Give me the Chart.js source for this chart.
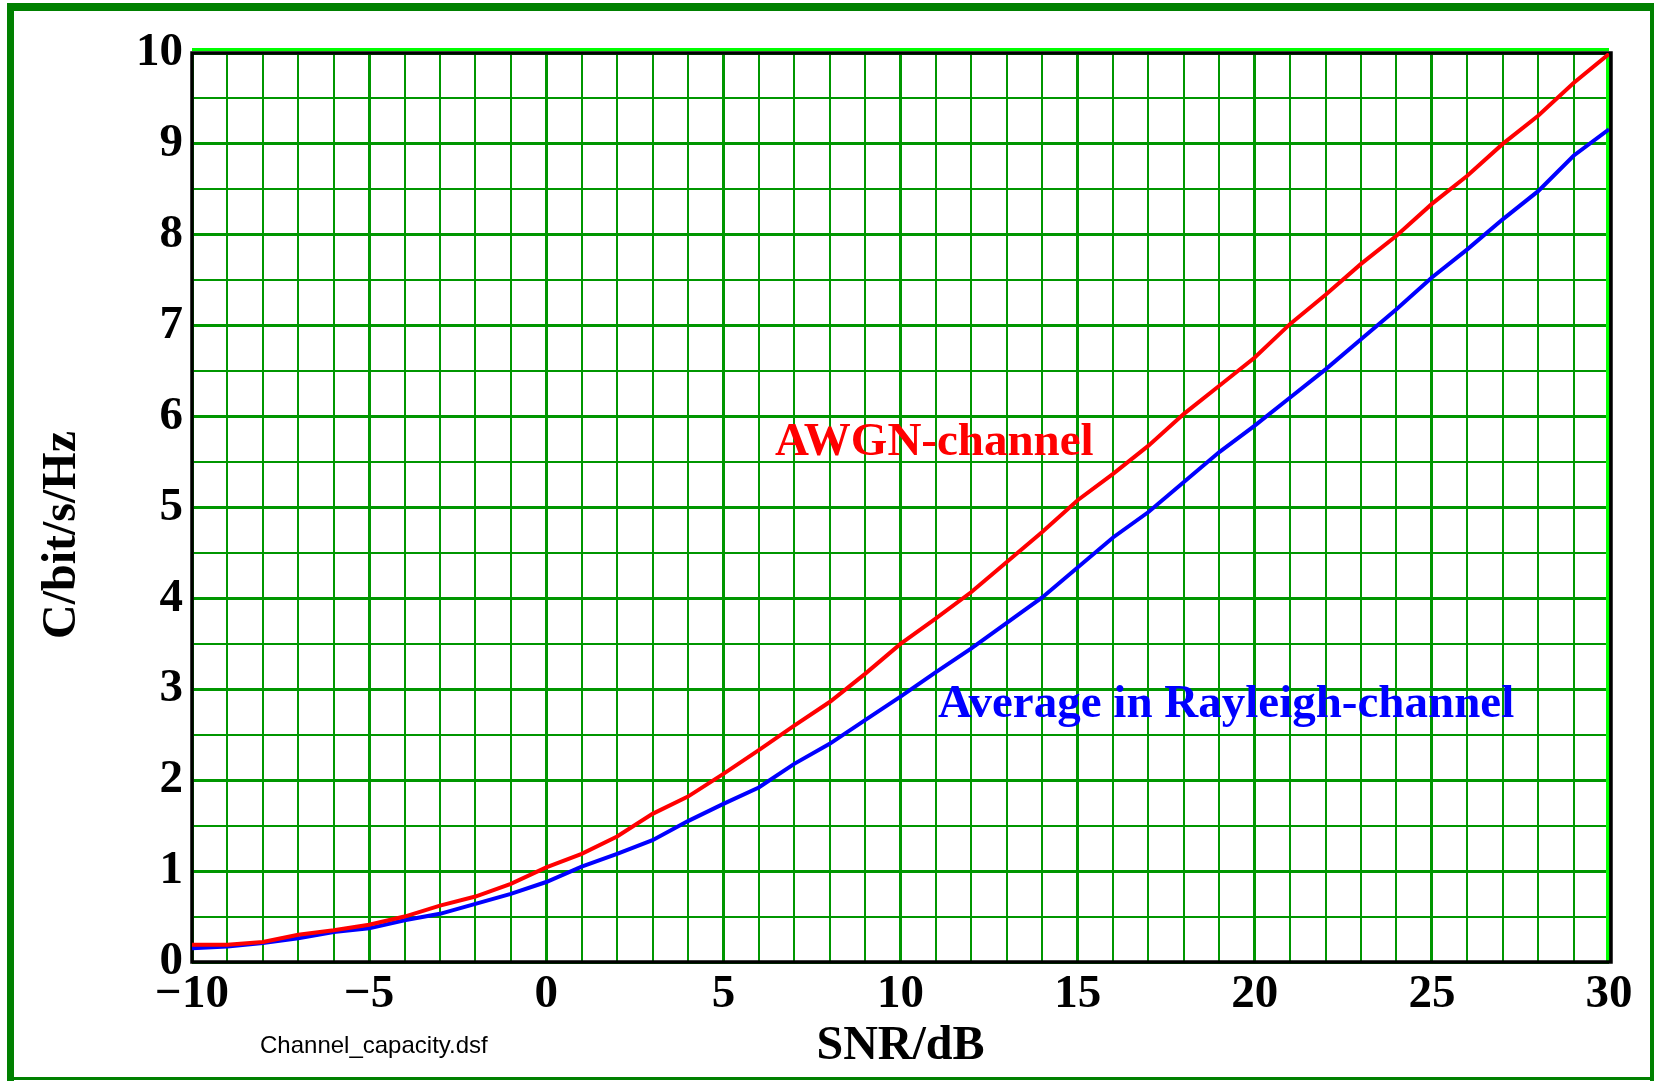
<!DOCTYPE html>
<html>
<head>
<meta charset="utf-8">
<title>Channel capacity</title>
<script src="https://cdn.jsdelivr.net/npm/chart.js@4.4.1/dist/chart.umd.min.js"></script>
<style>
  html, body { margin: 0; padding: 0; background: #fff; }
  canvas { display: block; }
</style>
</head>
<body>
<canvas id="capacity" width="1657" height="1081"></canvas>
<script>
// SNR in dB, one point per dB
const snrDb = [-10, -9, -8, -7, -6, -5, -4, -3, -2, -1, 0, 1, 2, 3, 4, 5, 6, 7, 8, 9,
  10, 11, 12, 13, 14, 15, 16, 17, 18, 19, 20, 21, 22, 23, 24, 25, 26, 27, 28, 29, 30];

// capacity in bit/s/Hz
const awgnCapacity = [0.19, 0.19, 0.22, 0.30, 0.35, 0.41, 0.50, 0.62, 0.72, 0.86,
  1.04, 1.19, 1.38, 1.63, 1.82, 2.07, 2.33, 2.60, 2.86, 3.17,
  3.50, 3.78, 4.07, 4.40, 4.73, 5.08, 5.37, 5.68, 6.03, 6.34,
  6.65, 7.02, 7.34, 7.68, 7.99, 8.34, 8.65, 9.00, 9.31, 9.67, 9.99];
const rayleighCapacity = [0.15, 0.17, 0.21, 0.26, 0.33, 0.37, 0.46, 0.53, 0.64, 0.75,
  0.88, 1.05, 1.19, 1.34, 1.55, 1.74, 1.92, 2.18, 2.40, 2.66,
  2.92, 3.19, 3.45, 3.73, 4.01, 4.34, 4.67, 4.95, 5.28, 5.61,
  5.90, 6.21, 6.52, 6.85, 7.18, 7.53, 7.84, 8.17, 8.48, 8.87, 9.16];

const curveNames = ["AWGN-channel", "Average in Rayleigh-channel"];

// only these ticks get a label, the others just draw a grid line
const xTickLabels = [-10, -5, 0, 5, 10, 15, 20, 25, 30];
const yTickLabels = [0, 1, 2, 3, 4, 5, 6, 7, 8, 9, 10];

const xTitle = "SNR/dB";
const yTitle = "C/bit/s/Hz";
const fileName = "Channel_capacity.dsf";

const GRID_GREEN = "#009600";
const serif = "'Liberation Serif', 'Times New Roman', serif";

function points(values) {
  return snrDb.map((snr, i) => ({ x: snr, y: values[i] }));
}

function formatTick(value) {
  return value < 0 ? "\u2212" + Math.abs(value) : String(value);
}

// where the curve names sit, in data units (left edge, baseline)
const nameAnchors = [
  { x: 6.46, y: 5.58 },
  { x: 11.06, y: 2.70 }
];

const decorations = {
  id: "decorations",
  beforeDraw(chart) {
    const ctx = chart.ctx;
    ctx.save();
    ctx.fillStyle = "#ffffff";
    ctx.fillRect(0, 0, chart.width, chart.height);
    ctx.restore();
  },
  beforeDatasetsDraw(chart) {
    const { ctx, chartArea: a } = chart;
    ctx.save();
    // bright green edge on top and right
    ctx.strokeStyle = "#00ff00";
    ctx.lineWidth = 3;
    ctx.beginPath();
    ctx.moveTo(a.left, a.top - 3.5);
    ctx.lineTo(a.right, a.top - 3.5);
    ctx.moveTo(a.right - 1.5, a.top);
    ctx.lineTo(a.right - 1.5, a.bottom);
    ctx.stroke();
    // black frame
    ctx.strokeStyle = "#000000";
    ctx.lineWidth = 3.5;
    ctx.beginPath();
    ctx.moveTo(a.left, a.top);
    ctx.lineTo(a.right + 2, a.top);
    ctx.lineTo(a.right + 2, a.bottom);
    ctx.lineTo(a.left, a.bottom);
    ctx.closePath();
    ctx.stroke();
    ctx.restore();
  },
  afterDraw(chart) {
    const { ctx, scales } = chart;
    ctx.save();

    // outer dark green border
    ctx.fillStyle = "#008000";
    ctx.fillRect(7, 3, 7, 1078);
    ctx.fillRect(7, 3, 1647, 8);
    ctx.fillRect(1650, 3, 4, 1078);
    ctx.fillRect(7, 1077, 1647, 3);

    // curve names
    ctx.font = "bold 47px " + serif;
    ctx.textAlign = "left";
    ctx.textBaseline = "alphabetic";
    chart.data.datasets.forEach((ds, i) => {
      ctx.fillStyle = ds.borderColor;
      ctx.fillText(ds.label, scales.x.getPixelForValue(nameAnchors[i].x),
        scales.y.getPixelForValue(nameAnchors[i].y));
    });

    // y axis title
    ctx.fillStyle = "#000000";
    ctx.font = "bold 48px " + serif;
    ctx.textAlign = "center";
    ctx.translate(75, 535);
    ctx.rotate(-Math.PI / 2);
    ctx.fillText(yTitle, 0, 0);
    ctx.setTransform(1, 0, 0, 1, 0, 0);

    // source file name
    ctx.font = "24px 'Liberation Sans', Arial, sans-serif";
    ctx.textAlign = "left";
    ctx.fillText(fileName, 260, 1053);
    ctx.restore();
  }
};

const ctx = document.getElementById("capacity").getContext("2d");

new Chart(ctx, {
  type: "scatter",
  data: {
    datasets: [
      {
        label: curveNames[0],
        data: points(awgnCapacity),
        borderColor: "#ff0000",
        backgroundColor: "#ff0000",
        borderWidth: 4,
        showLine: true,
        pointRadius: 0,
        tension: 0
      },
      {
        label: curveNames[1],
        data: points(rayleighCapacity),
        borderColor: "#0000ff",
        backgroundColor: "#0000ff",
        borderWidth: 4,
        showLine: true,
        pointRadius: 0,
        tension: 0
      }
    ]
  },
  options: {
    responsive: false,
    animation: false,
    devicePixelRatio: 1,
    layout: { padding: { top: 53, right: 48, left: 0, bottom: 0 } },
    plugins: {
      legend: { display: false },
      tooltip: { enabled: false }
    },
    scales: {
      x: {
        type: "linear",
        min: -10,
        max: 30,
        afterFit(scale) { scale.height = 119; },
        border: { display: false },
        grid: {
          color: GRID_GREEN,
          drawTicks: false,
          lineWidth: (c) => (c.tick && c.tick.value % 5 === 0 ? 3 : 2)
        },
        ticks: {
          stepSize: 1,
          autoSkip: false,
          maxRotation: 0,
          padding: 9,
          color: "#000000",
          font: { family: serif, size: 47, weight: "bold", lineHeight: 1 },
          callback: (value) => (xTickLabels.includes(value) ? formatTick(value) : "")
        },
        title: {
          display: true,
          text: xTitle,
          color: "#000000",
          font: { family: serif, size: 48, weight: "bold", lineHeight: 1 },
          padding: { top: 0, bottom: 10 }
        }
      },
      y: {
        min: 0,
        max: 10,
        afterFit(scale) { scale.width = 192; },
        border: { display: false },
        grid: {
          color: GRID_GREEN,
          drawTicks: false,
          lineWidth: (c) => (c.tick && Number.isInteger(c.tick.value) ? 3 : 2)
        },
        ticks: {
          stepSize: 0.5,
          autoSkip: false,
          padding: 9,
          color: "#000000",
          font: { family: serif, size: 47, weight: "bold", lineHeight: 1 },
          callback: (value) => (yTickLabels.includes(value) ? formatTick(value) : "")
        }
      }
    }
  },
  plugins: [decorations]
});
</script>
</body>
</html>
